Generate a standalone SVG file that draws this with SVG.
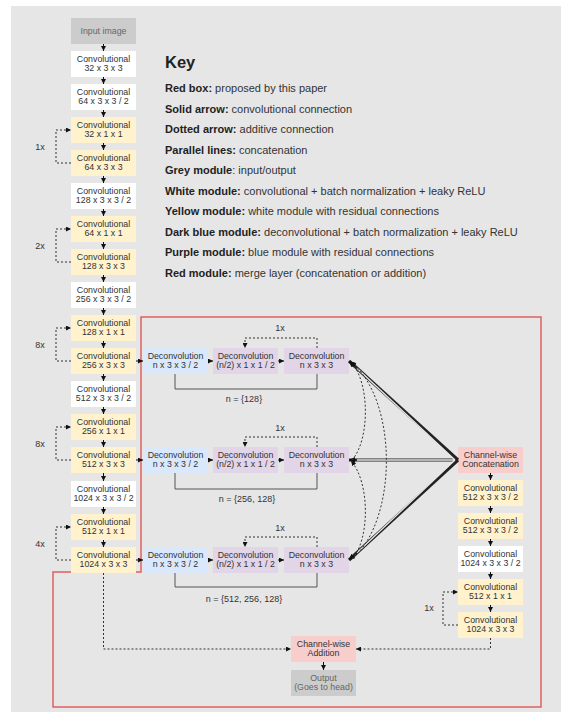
<svg xmlns="http://www.w3.org/2000/svg" width="571" height="718" viewBox="0 0 571 718">
<defs>
<marker id="a" viewBox="0 0 10 10" refX="10" refY="5" markerWidth="5" markerHeight="5" markerUnits="userSpaceOnUse" orient="auto"><path d="M0,0 L10,5 L0,10 z" fill="#111"/></marker>
<marker id="b" viewBox="0 0 10 10" refX="10" refY="5" markerWidth="6" markerHeight="6" markerUnits="userSpaceOnUse" orient="auto"><path d="M0,0 L10,5 L0,10 z" fill="#111"/></marker>
</defs>
<style>
text{font-family:"Liberation Sans",Arial,sans-serif;fill:#333}
.t{font-size:8.8px;text-anchor:middle}
.g{fill:#cccccc}.w{fill:#ffffff}.y{fill:#fff2cc}.bl{fill:#dae8fc}.p{fill:#e1d5e7}.r{fill:#f8cecc}
.s{stroke:#111;stroke-width:1;fill:none;marker-end:url(#a)}
.d{stroke:#333;stroke-width:1;fill:none;stroke-dasharray:2,2;marker-end:url(#a)}
.br{stroke:#555;stroke-width:1;fill:none}
.lb{font-size:9px;text-anchor:middle}
.k{font-size:11px}
.k tspan.h{font-weight:bold;fill:#222}
</style>
<rect x="11" y="6" width="550" height="706" fill="#e6e6e6"/>

<!-- red box -->
<path d="M53,707 L53,572 L141,572 L141,317 L541,317 L541,707 Z" fill="none" stroke="#e06060" stroke-width="1.5"/>

<!-- key -->
<g id="key">
<text x="165" y="68" style="font-size:16.5px;font-weight:bold;fill:#222">Key</text>
<text class="k" x="165" y="92"><tspan class="h">Red box:</tspan> proposed by this paper</text>
<text class="k" x="165" y="112.5"><tspan class="h">Solid arrow:</tspan> convolutional connection</text>
<text class="k" x="165" y="133"><tspan class="h">Dotted arrow:</tspan> additive connection</text>
<text class="k" x="165" y="153.5"><tspan class="h">Parallel lines:</tspan> concatenation</text>
<text class="k" x="165" y="174"><tspan class="h">Grey module</tspan>: input/output</text>
<text class="k" x="165" y="194.5"><tspan class="h">White module:</tspan> convolutional + batch normalization + leaky ReLU</text>
<text class="k" x="165" y="215"><tspan class="h">Yellow module:</tspan> white module with residual connections</text>
<text class="k" x="165" y="235.5"><tspan class="h">Dark blue module:</tspan> deconvolutional + batch normalization + leaky ReLU</text>
<text class="k" x="165" y="256"><tspan class="h">Purple module:</tspan> blue module with residual connections</text>
<text class="k" x="165" y="276.5"><tspan class="h">Red module:</tspan> merge layer (concatenation or addition)</text>
</g>

<!-- left column -->
<g id="in"><rect class="g" x="71" y="18" width="65" height="26"/><text class="t" x="103.5" y="34" style="fill:#666">Input image</text></g>
<g id="c1"><rect class="w" x="71" y="51" width="65" height="26"/><text class="t" x="103.5" y="62">Convolutional</text><text class="t" x="103.5" y="71">32 x 3 x 3</text></g>
<g id="c2"><rect class="w" x="71" y="84" width="65" height="26"/><text class="t" x="103.5" y="95">Convolutional</text><text class="t" x="103.5" y="104">64 x 3 x 3 / 2</text></g>
<g id="c3"><rect class="y" x="71" y="117" width="65" height="26"/><text class="t" x="103.5" y="128">Convolutional</text><text class="t" x="103.5" y="137">32 x 1 x 1</text></g>
<g id="c4"><rect class="y" x="71" y="150" width="65" height="26"/><text class="t" x="103.5" y="161">Convolutional</text><text class="t" x="103.5" y="170">64 x 3 x 3</text></g>
<g id="c5"><rect class="w" x="71" y="183" width="65" height="26"/><text class="t" x="103.5" y="194">Convolutional</text><text class="t" x="103.5" y="203">128 x 3 x 3 / 2</text></g>
<g id="c6"><rect class="y" x="71" y="216" width="65" height="26"/><text class="t" x="103.5" y="227">Convolutional</text><text class="t" x="103.5" y="236">64 x 1 x 1</text></g>
<g id="c7"><rect class="y" x="71" y="249" width="65" height="26"/><text class="t" x="103.5" y="260">Convolutional</text><text class="t" x="103.5" y="269">128 x 3 x 3</text></g>
<g id="c8"><rect class="w" x="71" y="282" width="65" height="26"/><text class="t" x="103.5" y="293">Convolutional</text><text class="t" x="103.5" y="302">256 x 3 x 3 / 2</text></g>
<g id="c9"><rect class="y" x="71" y="315" width="65" height="26"/><text class="t" x="103.5" y="326">Convolutional</text><text class="t" x="103.5" y="335">128 x 1 x 1</text></g>
<g id="c10"><rect class="y" x="71" y="348" width="65" height="26"/><text class="t" x="103.5" y="359">Convolutional</text><text class="t" x="103.5" y="368">256 x 3 x 3</text></g>
<g id="c11"><rect class="w" x="71" y="381" width="65" height="26"/><text class="t" x="103.5" y="392">Convolutional</text><text class="t" x="103.5" y="401">512 x 3 x 3 / 2</text></g>
<g id="c12"><rect class="y" x="71" y="414" width="65" height="26"/><text class="t" x="103.5" y="425">Convolutional</text><text class="t" x="103.5" y="434">256 x 1 x 1</text></g>
<g id="c13"><rect class="y" x="71" y="447" width="65" height="26"/><text class="t" x="103.5" y="458">Convolutional</text><text class="t" x="103.5" y="467">512 x 3 x 3</text></g>
<g id="c14"><rect class="w" x="71" y="481" width="65" height="26"/><text class="t" x="103.5" y="492">Convolutional</text><text class="t" x="103.5" y="501">1024 x 3 x 3 / 2</text></g>
<g id="c15"><rect class="y" x="71" y="514" width="65" height="26"/><text class="t" x="103.5" y="525">Convolutional</text><text class="t" x="103.5" y="534">512 x 1 x 1</text></g>
<g id="c16"><rect class="y" x="71" y="547" width="65" height="26"/><text class="t" x="103.5" y="558">Convolutional</text><text class="t" x="103.5" y="567">1024 x 3 x 3</text></g>

<!-- deconv rows -->
<g id="r1a"><rect class="bl" x="143" y="348" width="65" height="26"/><text class="t" x="175.5" y="359">Deconvolution</text><text class="t" x="175.5" y="368">n x 3 x 3 / 2</text></g>
<g id="r1b"><rect class="p" x="213" y="348" width="65" height="26"/><text class="t" x="245.5" y="359">Deconvolution</text><text class="t" x="245.5" y="368">(n/2) x 1 x 1 / 2</text></g>
<g id="r1c"><rect class="p" x="284" y="348" width="65" height="26"/><text class="t" x="316.5" y="359">Deconvolution</text><text class="t" x="316.5" y="368">n x 3 x 3</text></g>
<g id="r2a"><rect class="bl" x="143" y="447" width="65" height="26"/><text class="t" x="175.5" y="458">Deconvolution</text><text class="t" x="175.5" y="467">n x 3 x 3 / 2</text></g>
<g id="r2b"><rect class="p" x="213" y="447" width="65" height="26"/><text class="t" x="245.5" y="458">Deconvolution</text><text class="t" x="245.5" y="467">(n/2) x 1 x 1 / 2</text></g>
<g id="r2c"><rect class="p" x="284" y="447" width="65" height="26"/><text class="t" x="316.5" y="458">Deconvolution</text><text class="t" x="316.5" y="467">n x 3 x 3</text></g>
<g id="r3a"><rect class="bl" x="143" y="547" width="65" height="26"/><text class="t" x="175.5" y="558">Deconvolution</text><text class="t" x="175.5" y="567">n x 3 x 3 / 2</text></g>
<g id="r3b"><rect class="p" x="213" y="547" width="65" height="26"/><text class="t" x="245.5" y="558">Deconvolution</text><text class="t" x="245.5" y="567">(n/2) x 1 x 1 / 2</text></g>
<g id="r3c"><rect class="p" x="284" y="547" width="65" height="26"/><text class="t" x="316.5" y="558">Deconvolution</text><text class="t" x="316.5" y="567">n x 3 x 3</text></g>

<!-- right column -->
<g id="cat"><rect class="r" x="458" y="447" width="65" height="26"/><text class="t" x="490.5" y="458">Channel-wise</text><text class="t" x="490.5" y="467">Concatenation</text></g>
<g id="d1"><rect class="y" x="458" y="480" width="65" height="26"/><text class="t" x="490.5" y="491">Convolutional</text><text class="t" x="490.5" y="500">512 x 3 x 3 / 2</text></g>
<g id="d2"><rect class="y" x="458" y="513" width="65" height="26"/><text class="t" x="490.5" y="524">Convolutional</text><text class="t" x="490.5" y="533">512 x 3 x 3 / 2</text></g>
<g id="d3"><rect class="w" x="458" y="546" width="65" height="26"/><text class="t" x="490.5" y="557">Convolutional</text><text class="t" x="490.5" y="566">1024 x 3 x 3 / 2</text></g>
<g id="d4"><rect class="y" x="458" y="579" width="65" height="26"/><text class="t" x="490.5" y="590">Convolutional</text><text class="t" x="490.5" y="599">512 x 1 x 1</text></g>
<g id="d5"><rect class="y" x="458" y="612" width="65" height="26"/><text class="t" x="490.5" y="623">Convolutional</text><text class="t" x="490.5" y="632">1024 x 3 x 3</text></g>

<!-- bottom -->
<g id="add"><rect class="r" x="291" y="636" width="65" height="26"/><text class="t" x="323.5" y="647">Channel-wise</text><text class="t" x="323.5" y="656">Addition</text></g>
<g id="out"><rect class="g" x="291" y="670" width="65" height="26"/><text class="t" x="323.5" y="681" style="fill:#666">Output</text><text class="t" x="323.5" y="690" style="fill:#666">(Goes to head)</text></g>

<!-- labels -->
<g id="labels">
<text class="lb" x="40" y="150">1x</text>
<text class="lb" x="40" y="249">2x</text>
<text class="lb" x="40" y="348">8x</text>
<text class="lb" x="40" y="447">8x</text>
<text class="lb" x="40" y="547">4x</text>
<text class="lb" x="429" y="611">1x</text>
<text class="lb" x="280" y="331">1x</text>
<text class="lb" x="280" y="431">1x</text>
<text class="lb" x="280" y="531">1x</text>
<text class="lb" x="244" y="402">n = {128}</text>
<text class="lb" x="247" y="502">n = {256, 128}</text>
<text class="lb" x="244" y="602">n = {512, 256, 128}</text>
</g>

<!-- connectors -->
<g id="connectors">
<!-- left column vertical -->
<path class="s" d="M103.5,44 V51"/><path class="s" d="M103.5,77 V84"/><path class="s" d="M103.5,110 V117"/><path class="s" d="M103.5,143 V150"/><path class="s" d="M103.5,176 V183"/><path class="s" d="M103.5,209 V216"/><path class="s" d="M103.5,242 V249"/><path class="s" d="M103.5,275 V282"/><path class="s" d="M103.5,308 V315"/><path class="s" d="M103.5,341 V348"/><path class="s" d="M103.5,374 V381"/><path class="s" d="M103.5,407 V414"/><path class="s" d="M103.5,440 V447"/><path class="s" d="M103.5,473 V481"/><path class="s" d="M103.5,507 V514"/><path class="s" d="M103.5,540 V547"/>
<!-- left residual loops -->
<path class="d" d="M71,163 H56 V130 H71"/>
<path class="d" d="M71,262 H56 V229 H71"/>
<path class="d" d="M71,361 H56 V328 H71"/>
<path class="d" d="M71,460 H56 V427 H71"/>
<path class="d" d="M71,560 H56 V527 H71"/>
<!-- to deconv rows -->
<path class="s" d="M136,361 H143"/>
<path class="s" d="M136,460 H143"/>
<path class="s" d="M136,560 H143"/>
<!-- within rows -->
<path class="s" d="M208,361 H213"/><path class="s" d="M278,361 H284"/>
<path class="s" d="M208,460 H213"/><path class="s" d="M278,460 H284"/>
<path class="s" d="M208,560 H213"/><path class="s" d="M278,560 H284"/>
<!-- row residual -->
<path class="d" d="M317,348 V338 H245 V348"/>
<path class="d" d="M317,447 V437 H245 V447"/>
<path class="d" d="M317,547 V537 H245 V547"/>
<!-- brackets -->
<path class="br" d="M175,374 V389 H317 V374"/>
<path class="br" d="M175,473 V489 H317 V473"/>
<path class="br" d="M175,573 V587 H317 V573"/>
<!-- concat double lines -->
<g>
<path d="M458,460 L349,361" stroke="#222" stroke-width="3.2" fill="none" marker-end="url(#b)"/>
<path d="M458,460 L349,460" stroke="#222" stroke-width="3.2" fill="none" marker-end="url(#b)"/>
<path d="M458,460 L349,560" stroke="#222" stroke-width="3.2" fill="none" marker-end="url(#b)"/>
<path d="M455,460 L357,368.2 M455,460 L357,460 M455,460 L357,552.7" stroke="#e6e6e6" stroke-width="1.3" fill="none"/>
</g>
<!-- dotted curves -->
<path class="d" d="M352,460 C370,440 370,382 351,362"/>
<path class="d" d="M352,559 C370,540 370,482 351,461"/>
<path class="d" d="M352,559 C398,520 398,400 351,362"/>
<!-- right column -->
<path class="s" d="M490.5,473 V480"/><path class="s" d="M490.5,506 V513"/><path class="s" d="M490.5,539 V546"/><path class="s" d="M490.5,572 V579"/><path class="s" d="M490.5,605 V612"/>
<path class="d" d="M458,625 H443 V592 H458"/>
<!-- to addition -->
<path class="d" d="M103.5,573 V649 H291"/>
<path class="d" d="M490.5,638 V649 H356"/>
<path class="s" d="M323.5,662 V670"/>
</g>
</svg>
